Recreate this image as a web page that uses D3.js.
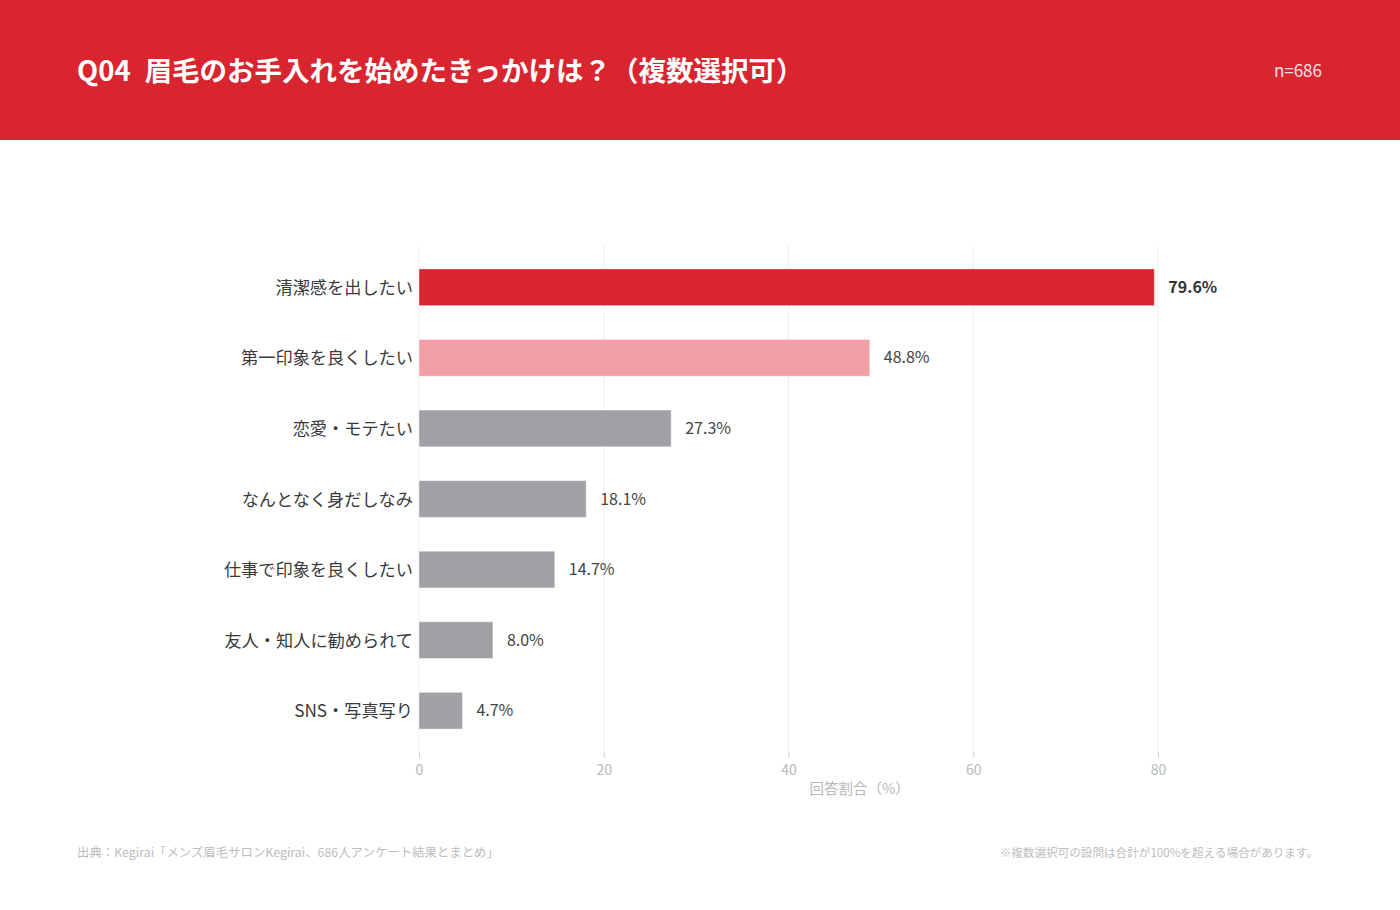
<!DOCTYPE html>
<html lang="ja">
<head>
<meta charset="utf-8">
<script src="https://cdn.jsdelivr.net/npm/d3@7"></script>
<style>
  html,body{margin:0;padding:0;background:#fff;}
  body{width:1400px;height:910px;overflow:hidden;font-family:"Noto Sans CJK JP","Noto Sans",sans-serif;}
  .grid line{stroke:#efefef;stroke-width:1;}
  .axis text{fill:#b8b8b8;font-size:14px;}
  .axis line{stroke:#cfcfcf;}
</style>
</head>
<body>
<div id="chart"></div>
<script>
const categories=['清潔感を出したい','第一印象を良くしたい','恋愛・モテたい','なんとなく身だしなみ','仕事で印象を良くしたい','友人・知人に勧められて','SNS・写真写り'];
const values=[79.6,48.8,27.3,18.1,14.7,8.0,4.7];
const barColors=['#d9252f','#f2a0a6','#a0a1a5','#a0a1a5','#a0a1a5','#a0a1a5','#a0a1a5'];
const xTicks=[0,20,40,60,80];
const titleNo='Q04';
const titleText='眉毛のお手入れを始めたきっかけは？（複数選択可）';
const nText='n=686';
const sourceText='出典：Kegirai「メンズ眉毛サロンKegirai、686人アンケート結果とまとめ」';
const noteText='※複数選択可の設問は合計が100%を超える場合があります。';

(function(){
  const W=1400,H=910,m={t:252,r:242,b:164,l:419};
  const w=W-m.l-m.r,h=H-m.t-m.b;
  const svg=d3.select('#chart').append('svg').attr('width',W).attr('height',H).attr('viewBox',`0 0 ${W} ${H}`);

  // header band
  svg.append('rect').attr('x',0).attr('y',0).attr('width',W).attr('height',140).attr('fill','#d9252f');
  const t=svg.append('text').attr('x',77).attr('y',81).attr('fill','#fff').attr('font-size',27.5).attr('font-weight',700);
  t.append('tspan').text(titleNo);
  t.append('tspan').attr('dx',14).text(titleText);
  svg.append('text').attr('x',1322).attr('y',77).attr('text-anchor','end').attr('fill','#fff').attr('opacity',.85).attr('font-size',17).text(nText);

  const g=svg.append('g').attr('transform',`translate(${m.l},${m.t})`);
  const x=d3.scaleLinear().domain([0,80]).range([0,1158-m.l]);
  const y=d3.scaleBand().domain(categories).range([0,h]).paddingInner(.48).paddingOuter(.24);

  // grid
  g.append('g').attr('class','grid').selectAll('line').data(xTicks).join('line')
    .attr('x1',d=>x(d)).attr('x2',d=>x(d)).attr('y1',-7).attr('y2',h+6);

  // x axis
  const ax=g.append('g').attr('class','axis').attr('transform',`translate(0,${h+6})`)
    .call(d3.axisBottom(x).tickValues(xTicks).tickSize(6).tickPadding(7));
  ax.select('.domain').remove();
  ax.selectAll('text').attr('font-family','"Noto Sans CJK JP",sans-serif');
  g.append('text').attr('x',x(47.7)).attr('y',h+48).attr('text-anchor','middle').attr('fill','#b8b8b8').attr('font-size',14.5).text('回答割合（%）');

  // bars
  g.selectAll('.bar').data(values).join('rect').attr('class','bar')
    .attr('x',x(0)).attr('y',(d,i)=>y(categories[i])).attr('width',d=>x(d)).attr('height',y.bandwidth())
    .attr('fill',(d,i)=>barColors[i]).attr('stroke','#fff').attr('stroke-opacity',.4).attr('stroke-width',1);

  // value labels
  g.selectAll('.val').data(values).join('text').attr('class','val')
    .attr('x',d=>x(d)+14).attr('y',(d,i)=>y(categories[i])+y.bandwidth()/2).attr('dy','0.35em')
    .attr('font-size',16).attr('font-weight',(d,i)=>i===0?700:400).attr('fill',(d,i)=>i===0?'#333':'#444')
    .text(d=>d.toFixed(1)+'%');

  // category labels
  g.selectAll('.cat').data(categories).join('text').attr('class','cat')
    .attr('x',-6).attr('y',d=>y(d)+y.bandwidth()/2).attr('dy','0.38em').attr('text-anchor','end')
    .attr('font-size',17.2).attr('fill','#3a3a3a').text(d=>d);

  // footer
  svg.append('text').attr('x',77).attr('y',857).attr('fill','#bdbdbd').attr('font-size',12.4).text(sourceText);
  svg.append('text').attr('x',1318).attr('y',857).attr('text-anchor','end').attr('fill','#bdbdbd').attr('font-size',11.6).text(noteText);
})();
</script>
</body>
</html>
